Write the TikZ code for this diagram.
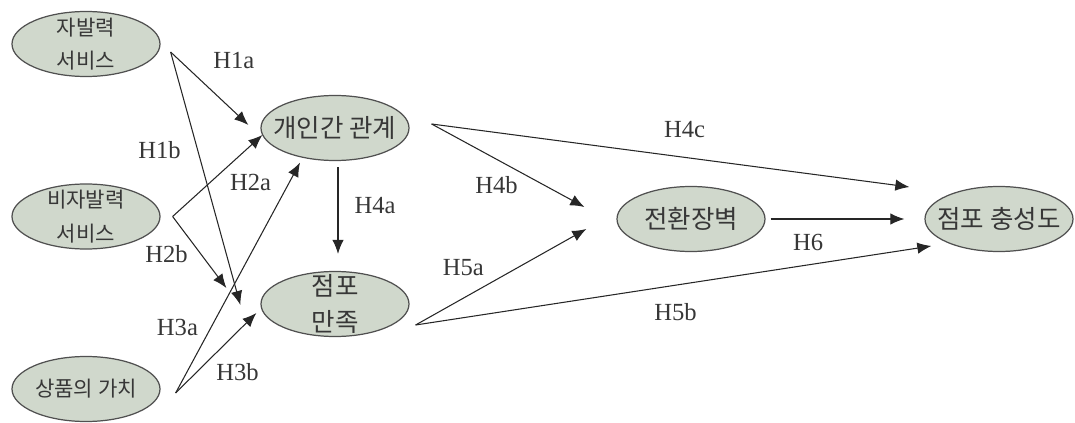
\documentclass[tikz,border=0pt]{standalone}
\usepackage{fontspec}
\setmainfont{Liberation Serif}
\newfontfamily\kr{Noto Sans CJK KR}
\usepackage{tikz}
\usetikzlibrary{shapes.geometric, arrows.meta, positioning}
\definecolor{factorfill}{RGB}{208,216,204}
\definecolor{factorline}{RGB}{80,80,80}
\definecolor{inktext}{RGB}{55,55,55}
\tikzstyle{factor} = [ellipse, minimum width=2.96cm, minimum height=1.3cm, align=center, draw=factorline, fill=factorfill, line width=0.7pt, inner xsep=-0.4cm, inner ysep=-0.15cm, text=inktext]
\tikzstyle{smallfactor} = [factor, font=\kr\fontsize{12}{19}\selectfont]
\tikzstyle{bigfactor} = [factor, font=\kr\fontsize{14.5}{20}\selectfont]
\tikzstyle{hlabel} = [font=\fontsize{14}{16}\selectfont, text=inktext, inner sep=0pt]
\tikzstyle{arrow} = [line width=0.6pt, draw=black!85, ->, >={Latex[length=8pt,width=6.5pt]}]

\begin{document}
\begin{tikzpicture}[node distance=3.45cm]
        \useasboundingbox (-1.72,0.88) rectangle (19.78,-7.58);

        \node (A) [smallfactor] {자발력\\서비스};
        \node (B) [smallfactor, below of=A] {비자발력\\서비스};
        \node (C) [smallfactor, below of=B] {상품의 가치};
        \node (D) [bigfactor, right of=A, xshift=1.53cm, yshift=-1.68cm] {개인간 관계};
        \node (E) [bigfactor, below of=D, yshift=-0.07cm] {점포\\만족};
        \node (F) [bigfactor, right of=D, xshift=3.67cm, yshift=-1.82cm] {전환장벽};
        \node (G) [bigfactor, right of=F, xshift=2.71cm] {점포 충성도};

        % start points of the fans
        \coordinate (Aout) at ([xshift=0.2cm, yshift=-0.16cm]A.east);
        \coordinate (Bout) at ([xshift=0.24cm]B.east);
        \coordinate (Cout) at ([xshift=0.3cm, yshift=-0.08cm]C.east);
        \coordinate (Dout) at ([xshift=0.44cm, yshift=0.08cm]D.east);
        \coordinate (Eout) at ([xshift=0.12cm, yshift=-0.42cm]E.east);
        \coordinate (Fout) at ([xshift=0.1cm]F.east);
        \coordinate (Dbot) at ([xshift=0.06cm, yshift=-0.12cm]D.south);

        % end points of the arrows
        \coordinate (D1) at ([xshift=-0.24cm, yshift=0.06cm]D.west);
        \coordinate (D2) at ([xshift=0.04cm, yshift=-0.14cm]D.west);
        \coordinate (D3) at ([xshift=-0.7cm, yshift=-0.03cm]D.south);
        \coordinate (E1) at ([xshift=-0.4cm, yshift=-0.02cm]E.west);
        \coordinate (E2) at ([xshift=-0.68cm, yshift=0.32cm]E.west);
        \coordinate (E3) at ([xshift=-0.08cm, yshift=-0.18cm]E.west);
        \coordinate (E4) at ([yshift=0.34cm]Dbot |- E.north);
        \coordinate (F1) at ([xshift=-0.64cm, yshift=0.24cm]F.west);
        \coordinate (F2) at ([xshift=-0.6cm, yshift=-0.2cm]F.west);
        \coordinate (G1) at ([xshift=-0.3cm, yshift=0.64cm]G.west);
        \coordinate (G2) at ([xshift=-0.4cm]G.west);
        \coordinate (G3) at ([xshift=0.14cm, yshift=-0.54cm]G.west);


        \draw [arrow] (Aout) -- node[hlabel, pos=0.35, xshift=0.72cm, yshift=0.35cm] (h1a) {H1a} (D1);
        \draw [arrow] (Aout) -- node[hlabel, pos=0.4, xshift=-0.78cm, yshift=0.06cm] (h1b) {H1b} (E1);
        \draw [arrow] (Bout) -- node[hlabel, pos=0.5, xshift=0.66cm, yshift=-0.13cm] (h2a) {H2a} (D2);
        \draw [arrow] (Bout) -- node[hlabel, pos=0.5, xshift=-0.66cm, yshift=-0.04cm] (h2b) {H2b} (E2);
        \draw [arrow] (Cout) -- node[hlabel, pos=0.3, xshift=-0.71cm, yshift=-0.07cm] (h3a) {H3a} (D3);
        \draw [arrow] (Cout) -- node[hlabel, pos=0.5, xshift=0.43cm, yshift=-0.38cm] (h3b) {H3b} (E3);
        \draw [arrow] (Dbot) -- node[hlabel, pos=0.5, xshift=0.74cm, yshift=0.1cm] (h4a) {H4a} (E4);
        \draw [arrow] (Dout) -- node[hlabel, pos=0.5, xshift=-0.23cm, yshift=-0.39cm] (h4b) {H4b} (F1);
        \draw [arrow] (Dout) -- node[hlabel, pos=0.5, xshift=0.28cm, yshift=0.52cm] (h4c) {H4c} (G1);
        \draw [arrow] (Eout) -- node[hlabel, pos=0.4, xshift=-0.41cm, yshift=0.39cm] (h5a) {H5a} (F2);
        \draw [arrow] (Eout) -- node[hlabel, pos=0.5, xshift=0.04cm, yshift=-0.54cm] (h5b) {H5b} (G3);
        \draw [arrow] (Fout) -- node[hlabel, pos=0.3, xshift=-0.05cm, yshift=-0.46cm] (h6) {H6} (G2);


    \end{tikzpicture}
\end{document}
